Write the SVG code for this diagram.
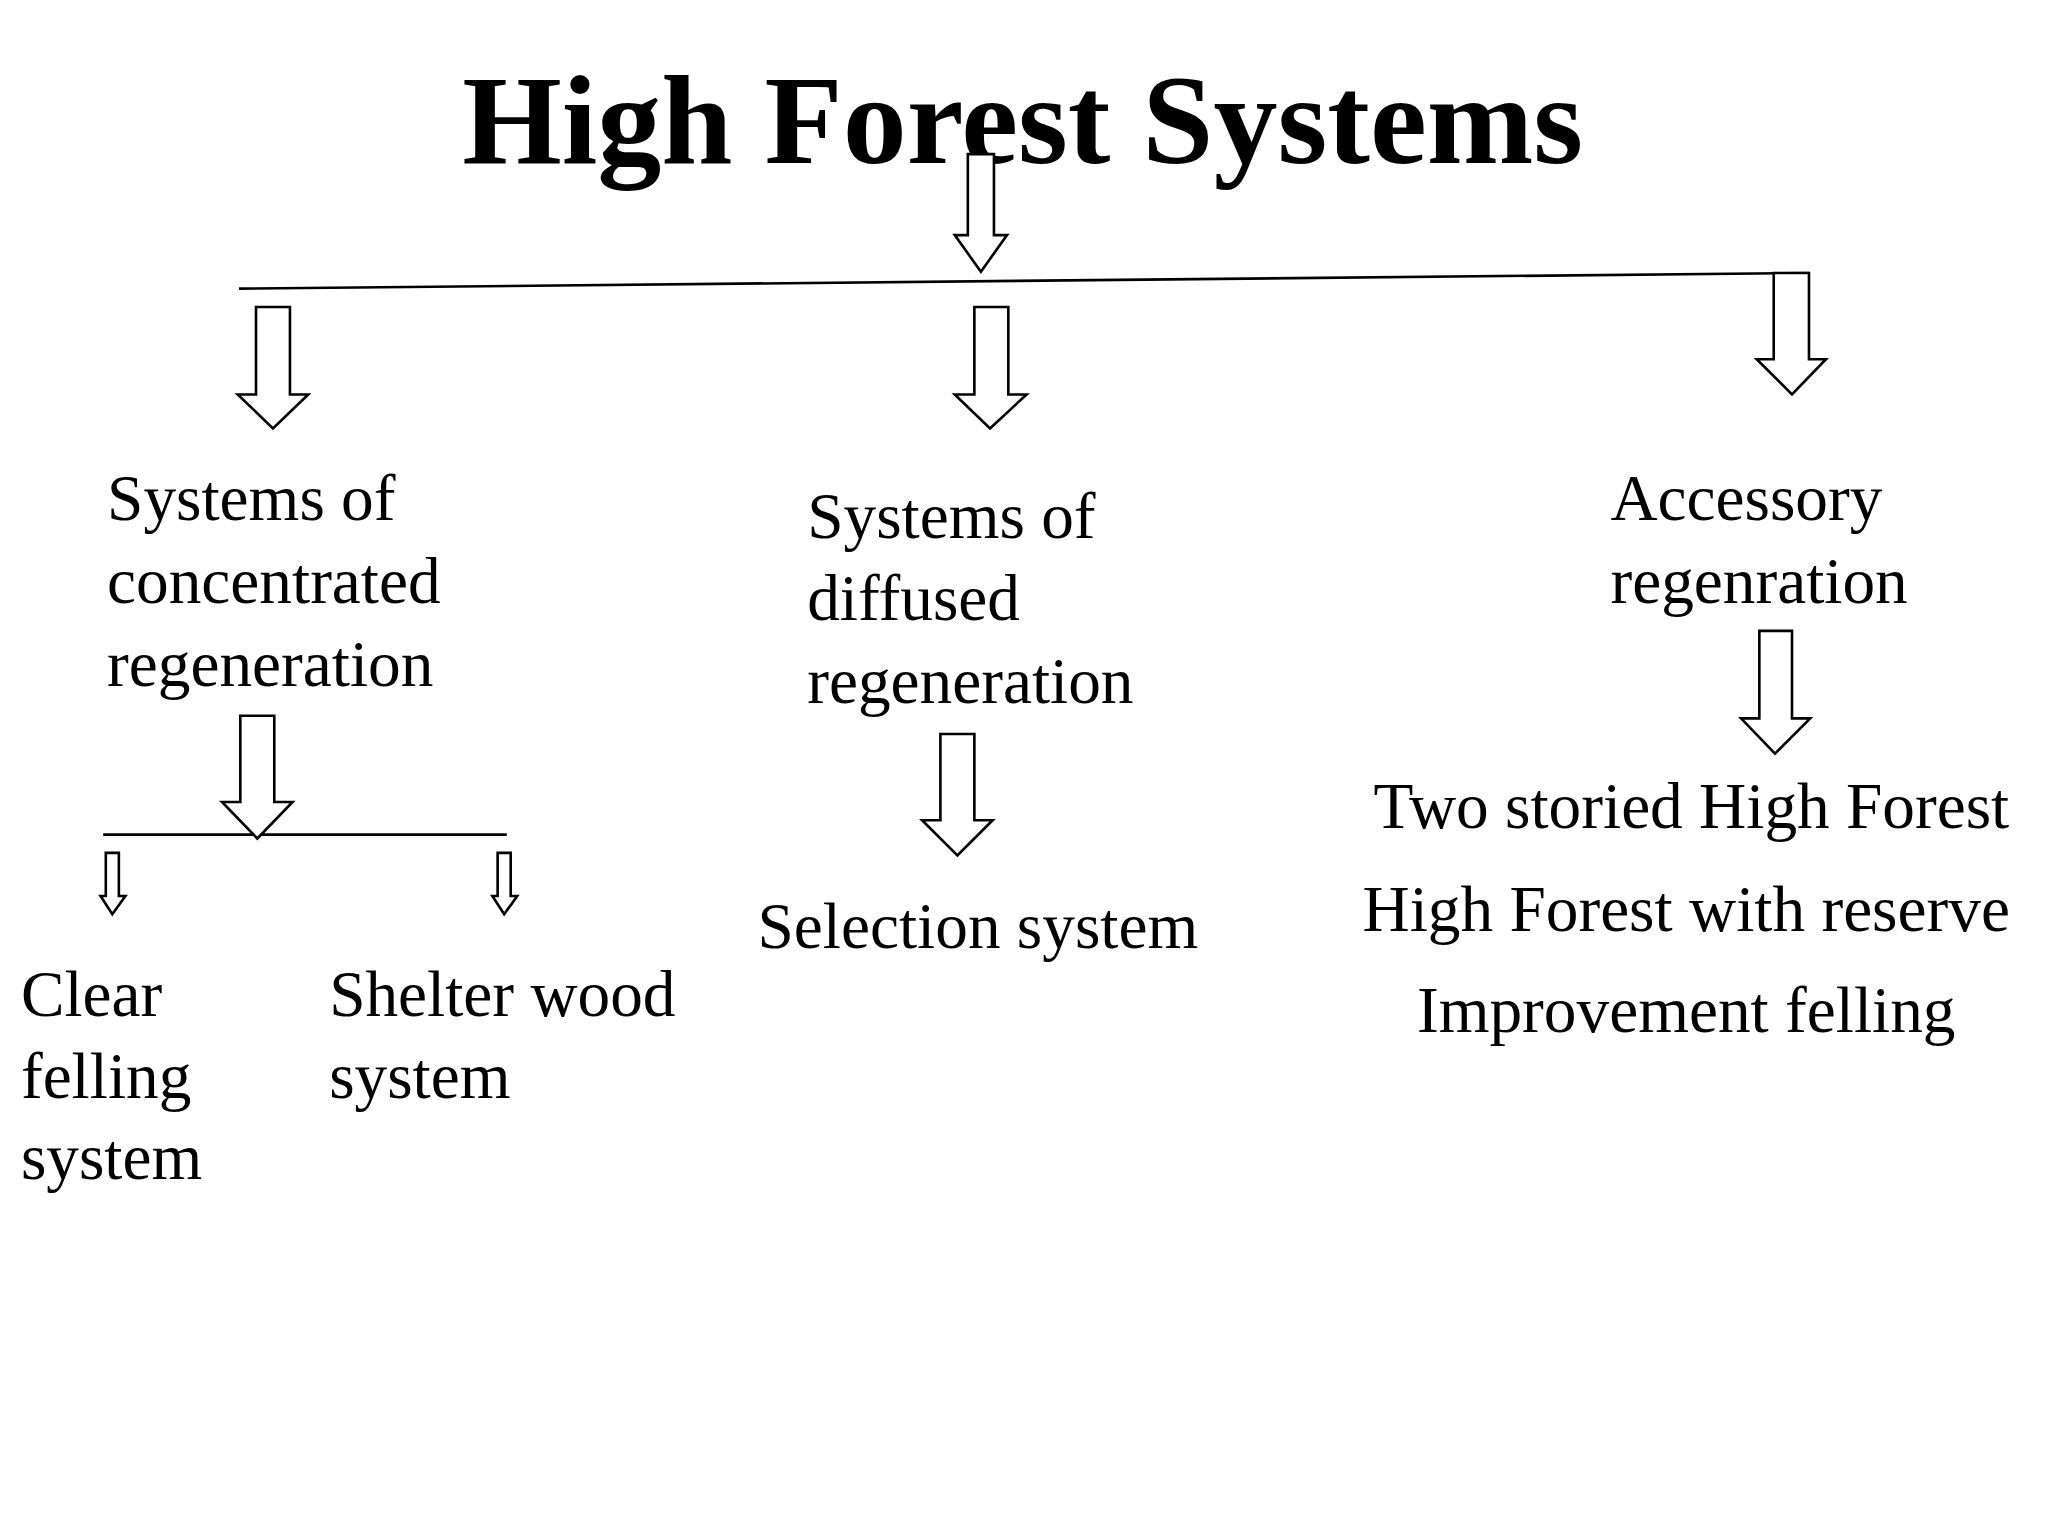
<svg xmlns="http://www.w3.org/2000/svg" width="2048" height="1536" viewBox="0 0 2048 1536">
<style>
text{font-family:"Liberation Serif","Times New Roman",serif;fill:#000;font-size:50px}
.t{font-weight:bold;font-size:98px}
.a{fill:#fff;stroke:#000;stroke-width:2}
.l{stroke:#000;stroke-width:2;fill:none}
</style>
<rect width="2048" height="1536" fill="#fff"/>
<g transform="scale(1.30612)">
<g id="title"><text class="t" x="783" y="125" text-anchor="middle">High Forest Systems</text></g>
<g id="connectors">
<path class="a" d="M741,118H761V180H771L751,208L731,180H741Z"/>
<line class="l" x1="183" y1="221" x2="1385" y2="209"/>
<path class="a" d="M1358,209H1385V275H1398L1372,302L1345,275H1358Z"/>
<path class="a" d="M196,235H222V302H236L209,328L182,302H196Z"/>
<path class="a" d="M746,235H772V302H786L758,328L731,302H746Z"/>
<path class="a" d="M1347,483H1372V550H1386L1359,577L1333,550H1347Z"/>
<line class="l" x1="79" y1="639" x2="388" y2="639"/>
<path class="a" d="M184,548H210V614H224L197,642L170,614H184Z"/>
<path class="a" d="M81,653H91V686H96L86,700L77,686H81Z"/>
<path class="a" d="M381,653H391V686H396L386,700L377,686H381Z"/>
<path class="a" d="M720,562H746V628H760L733,655L706,628H720Z"/>
</g>
<g id="concentrated"><text x="82" y="398">Systems of</text><text x="82" y="462">concentrated</text><text x="82" y="525">regeneration</text></g>
<g id="diffused"><text x="618" y="412">Systems of</text><text x="618" y="475">diffused</text><text x="618" y="538">regeneration</text></g>
<g id="accessory"><text x="1233" y="398">Accessory</text><text x="1233" y="462">regenration</text></g>
<g id="clear"><text x="16" y="778">Clear</text><text x="16" y="841">felling</text><text x="16" y="903">system</text></g>
<g id="shelter"><text x="252" y="778">Shelter wood</text><text x="252" y="841">system</text></g>
<g id="selection"><text x="580" y="726">Selection system</text></g>
<g id="accessory-types"><text x="1295" y="634" text-anchor="middle">Two storied High Forest</text><text x="1291" y="713" text-anchor="middle">High Forest with reserve</text><text x="1291" y="790" text-anchor="middle">Improvement felling</text></g>
</g>
</svg>
